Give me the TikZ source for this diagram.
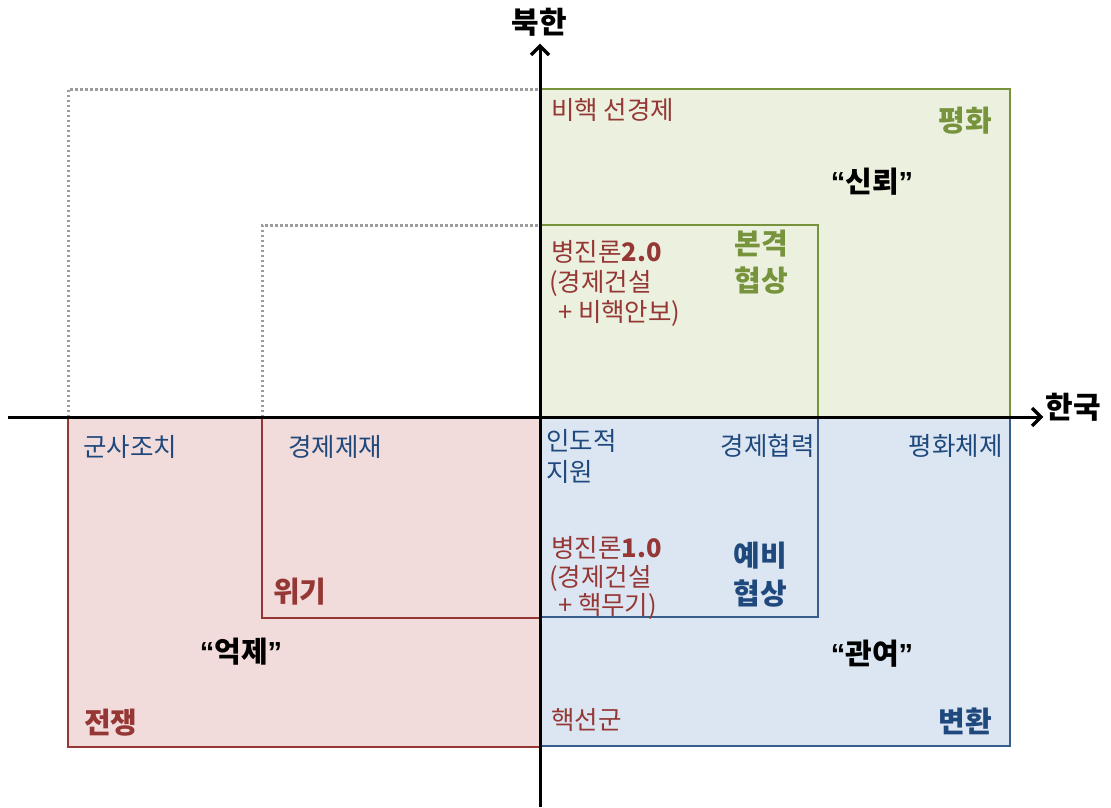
\documentclass[tikz,border=0pt]{standalone}
\usepackage{fontspec}
\setmainfont{Noto Sans CJK KR}
\newfontfamily\qf{Liberation Sans}
\usetikzlibrary{arrows.meta}
\definecolor{gfill}{HTML}{EBF1DE}
\definecolor{gline}{HTML}{77933C}
\definecolor{bfill}{HTML}{DCE6F2}
\definecolor{bline}{HTML}{385D8A}
\definecolor{rfill}{HTML}{F2DCDB}
\definecolor{rline}{HTML}{953735}
\definecolor{rtext}{HTML}{953735}
\definecolor{gtext}{HTML}{77933C}
\definecolor{btext}{HTML}{1F497D}
\definecolor{dotc}{HTML}{9C9C9C}
\begin{document}
\begin{tikzpicture}[x=1pt,y=-1pt,
  lbl/.style={inner sep=0pt, font=\fontsize{25.5}{30}\selectfont},
  big/.style={inner sep=0pt, font=\fontsize{29}{33}\selectfont\bfseries},
  quad/.style={line width=2.6pt},
  guide/.style={line width=3pt, dotc, dash pattern=on 2.5pt off 2.5pt},
  axis/.style={line width=3pt, black},
  head/.style={line width=3.4pt, black, line join=miter}]
\useasboundingbox[fill=white] (0,0) rectangle (1111,807);
% quadrant boxes
\draw[quad, gline, fill=gfill] (540,89) rectangle (1010,417);
\draw[quad, gline] (540,225) rectangle (818,417);
\draw[quad, bline, fill=bfill] (540,417) rectangle (1010,746);
\draw[quad, bline] (540,417) rectangle (818,617);
\draw[quad, rline, fill=rfill] (68,417) rectangle (540,747);
\draw[quad, rline] (262,417) rectangle (540,618);
% dotted guides
\draw[guide] (68,417) -- (68,89) -- (540,89);
\draw[guide] (262,417) -- (262,225) -- (540,225);
% axes
\coordinate (xs) at (8,417);
\coordinate (xe) at (1041,417);
\coordinate (ys) at (540,807);
\coordinate (ye) at (540,46);
\draw[axis] (xs) -- (xe);
\draw[axis] (ys) -- (ye);
\draw[head] ([shift={(-9,-9)}]xe) -- (xe) -- ([shift={(-9,9)}]xe);
\draw[head] ([shift={(-9,9)}]ye) -- (ye) -- ([shift={(9,9)}]ye);
\node[big, font=\fontsize{30}{34}\selectfont\bfseries] (nk) at (539,22) {북한};
\node[big, font=\fontsize{30}{34}\selectfont\bfseries] (sk) at (1073,407) {한국};
% green quadrant
\node[lbl, rtext, anchor=west] (bh) at (551,110) {비핵 선경제};
\node[big, gtext, anchor=east] (ph) at (992,121) {평화};
\node[big] (sr) at (872,182) {{\qf “}신뢰{\qf ”}};
\node[lbl, rtext, anchor=west] (b2a) at (551,252) {병진론\textbf{2.0}};
\node[lbl, rtext, anchor=west] (b2b) at (549,283) {(경제건설};
\node[lbl, rtext, anchor=west] (b2c) at (558,313) {+ 비핵안보)};
\node[big, gtext] (bg1) at (761,244) {본격};
\node[big, gtext] (bg2) at (761,281) {협상};
% blue quadrant
\node[lbl, btext, anchor=west] (id1) at (546,441) {인도적};
\node[lbl, btext, anchor=west] (id2) at (546,472) {지원};
\node[lbl, btext, anchor=east] (gh) at (815,446) {경제협력};
\node[lbl, btext, anchor=east] (pc) at (1003,446) {평화체제};
\node[lbl, rtext, anchor=west] (b1a) at (551,548) {병진론\textbf{1.0}};
\node[lbl, rtext, anchor=west] (b1b) at (549,578) {(경제건설};
\node[lbl, rtext, anchor=west] (b1c) at (558,606) {+ 핵무기)};
\node[big, btext] (yb1) at (760,556) {예비};
\node[big, btext] (yb2) at (760,594) {협상};
\node[big] (gy) at (872,654) {{\qf “}관여{\qf ”}};
\node[lbl, rtext, anchor=west] (hs) at (551,720) {핵선군};
\node[big, btext, anchor=east] (bw) at (992,721) {변환};
% red quadrant
\node[lbl, btext, anchor=west] (gs) at (83,447) {군사조치};
\node[lbl, btext, anchor=west] (gj) at (288,447) {경제제재};
\node[big, rtext, anchor=west] (wg) at (273,592) {위기};
\node[big] (ej) at (241,652) {{\qf “}억제{\qf ”}};
\node[big, rtext, anchor=west] (jj) at (84,723) {전쟁};
\end{tikzpicture}
\end{document}
